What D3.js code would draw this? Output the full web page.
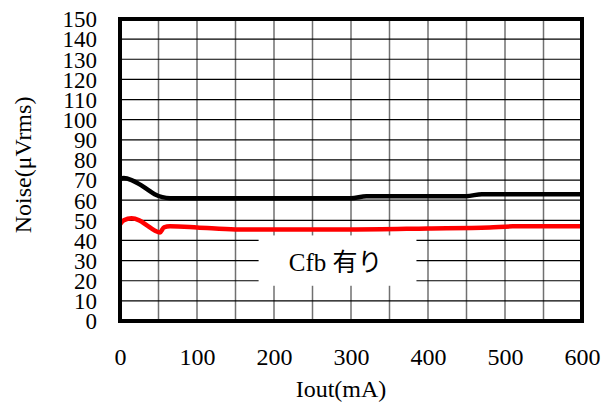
<!DOCTYPE html>
<html>
<head>
<meta charset="utf-8">
<script src="https://cdn.jsdelivr.net/npm/d3@7"></script>
<style>
  body { margin: 0; background: #fff; }
</style>
</head>
<body>
<div id="chart"></div>
<script>
// noise vs output current
let xTicks = [0, 100, 200, 300, 400, 500, 600];
let yTicks = d3.range(0, 151, 10);

let blackX = [0, 5, 15, 25, 35, 45, 55, 65, 80, 300, 320, 450, 470, 600];
let blackY = [70.5, 71, 70, 68, 65.5, 63, 61.5, 61, 61, 61, 62, 62, 63, 63];

let redX = [0, 5, 15, 25, 35, 45, 52, 57, 65, 100, 150, 300, 400, 480, 510, 600];
let redY = [48, 50, 51, 50, 47.5, 45, 44, 46.5, 47, 46.5, 45.5, 45.5, 46, 46.5, 47, 47];

let label = "Cfb 有り";

let serif = "'Liberation Serif', 'DejaVu Serif', serif";
let width = 604, height = 406;
let margin = {top: 19, right: 22, bottom: 85, left: 120};

let x = d3.scaleLinear().domain([0, 600]).range([margin.left, width - margin.right]);
let y = d3.scaleLinear().domain([0, 150]).range([height - margin.bottom, margin.top]);

let svg = d3.select("#chart").append("svg")
    .attr("width", width)
    .attr("height", height)
    .attr("font-family", serif);

// grid
svg.append("g")
   .selectAll("line")
   .data(d3.range(50, 600, 50))
   .enter().append("line")
   .attr("x1", d => x(d)).attr("x2", d => x(d))
   .attr("y1", y(0)).attr("y2", y(150))
   .attr("stroke", "#707070")
   .attr("stroke-width", 1.5);

svg.append("g")
   .selectAll("line")
   .data(yTicks.slice(1, -1))
   .enter().append("line")
   .attr("x1", x(0)).attr("x2", x(600))
   .attr("y1", d => y(d)).attr("y2", d => y(d))
   .attr("stroke", "#000")
   .attr("stroke-width", 1.2);

// label box covers the grid
svg.append("rect")
   .attr("x", x(180)).attr("y", y(42.5))
   .attr("width", x(385) - x(180)).attr("height", y(17.5) - y(42.5))
   .attr("fill", "#fff");

svg.append("text")
   .attr("x", x(280)).attr("y", y(25))
   .attr("text-anchor", "middle")
   .style("font-family", "'Liberation Serif', 'Noto Sans CJK JP', serif")
   .style("font-size", "25px")
   .text(label);

// curves
let line = d3.line()
    .x(d => x(d[0]))
    .y(d => y(d[1]))
    .curve(d3.curveMonotoneX);

svg.append("path")
   .datum(d3.zip(redX, redY))
   .attr("d", line)
   .attr("fill", "none")
   .attr("stroke", "#ff0000")
   .attr("stroke-width", 4.5);

svg.append("path")
   .datum(d3.zip(blackX, blackY))
   .attr("d", line)
   .attr("fill", "none")
   .attr("stroke", "#000")
   .attr("stroke-width", 4.5);

// frame
svg.append("rect")
   .attr("x", x(0)).attr("y", y(150))
   .attr("width", x(600) - x(0)).attr("height", y(0) - y(150))
   .attr("fill", "none")
   .attr("stroke", "#000")
   .attr("stroke-width", 4);

// axes
let yAxis = svg.append("g")
   .attr("transform", "translate(" + (x(0) - 23) + ",0)")
   .call(d3.axisLeft(y).tickValues(yTicks).tickSize(0).tickPadding(0));
yAxis.attr("font-family", serif);
yAxis.select(".domain").remove();
yAxis.selectAll("text")
   .style("font-family", serif)
   .style("font-size", "23px")
   .attr("dy", "0.34em");

let xAxis = svg.append("g")
   .attr("transform", "translate(0," + (y(0) + 27) + ")")
   .call(d3.axisBottom(x).tickValues(xTicks).tickSize(0).tickPadding(0));
xAxis.attr("font-family", serif);
xAxis.select(".domain").remove();
xAxis.selectAll("text")
   .style("font-family", serif)
   .style("font-size", "24px");

svg.append("text")
   .attr("x", x(300) - 10).attr("y", 397)
   .attr("text-anchor", "middle")
   .style("font-size", "24px")
   .text("Iout(mA)");

svg.append("text")
   .attr("transform", "translate(31,165) rotate(-90)")
   .attr("text-anchor", "middle")
   .style("font-size", "24px")
   .text("Noise(μVrms)");
</script>
</body>
</html>
